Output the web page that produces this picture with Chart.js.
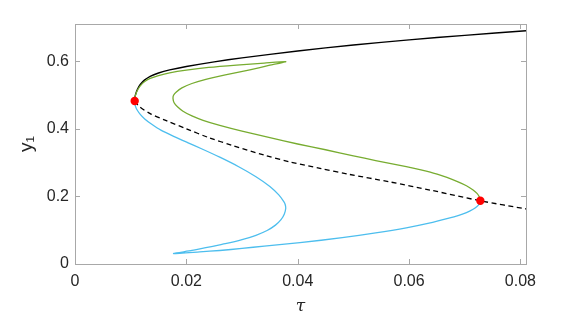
<!DOCTYPE html>
<html>
<head>
<meta charset="utf-8">
<script src="https://cdn.jsdelivr.net/npm/chart.js@4.4.1/dist/chart.umd.min.js"></script>
<style>
html,body{margin:0;padding:0;background:#fff;}
#wrap{width:581px;height:317px;position:relative;}
</style>
</head>
<body>
<div id="wrap"><canvas id="c"></canvas></div>
<script>
// ---- data ----
const xTicks = [0, 0.02, 0.04, 0.06, 0.08];
const yTicks = [0, 0.2, 0.4, 0.6];

// stable upper branch (solid black)
const blackUpTau = [0.01072, 0.01077, 0.01092, 0.01122, 0.01172, 0.01252, 0.0135, 0.0150, 0.0170, 0.0200, 0.0250, 0.0300, 0.0400, 0.0500, 0.0600, 0.0700, 0.0810];
const blackUpY   = [0.482,   0.493,   0.504,   0.517,   0.531,   0.5446,  0.5554, 0.5651, 0.5741, 0.5843, 0.598,  0.6098, 0.6303, 0.6480, 0.6630, 0.6765, 0.690];

// unstable branch (dashed black)
const dashTau = [0.01072, 0.0116, 0.0135, 0.0164, 0.0200, 0.0240, 0.0284, 0.0340, 0.0386, 0.0440, 0.0493, 0.0565, 0.0640, 0.0728, 0.0810];
const dashY   = [0.482,   0.465,  0.445,  0.424,  0.400,  0.374,  0.350,  0.322,  0.302,  0.283,  0.265,  0.243,  0.218,  0.187,  0.163];

// green branch
const greenTau = [0.01072, 0.01077, 0.01092, 0.01122, 0.01172, 0.01252, 0.0135, 0.0150, 0.0170, 0.0200, 0.0240, 0.0290, 0.0340, 0.03785,
                  0.0350, 0.0314, 0.0270, 0.0235, 0.0210, 0.0192, 0.0182, 0.0177, 0.0176, 0.0178, 0.0184, 0.0194, 0.0210, 0.0230, 0.0260, 0.0300, 0.0350, 0.0400, 0.0450, 0.0500, 0.0540, 0.0595, 0.0638, 0.0668, 0.0688, 0.0703, 0.0715, 0.0722, 0.0726, 0.07275, 0.0728];
const greenY   = [0.482,   0.492,   0.502,   0.514,   0.527,   0.540,   0.549,  0.5575, 0.5655, 0.5735, 0.5815, 0.5885, 0.5943, 0.5985,
                  0.588,  0.5745, 0.5595, 0.5465, 0.534,  0.521,  0.509,  0.499,  0.490,  0.477,  0.465,  0.452,  0.438,  0.425,  0.410,  0.393,  0.374,  0.355,  0.338,  0.320,  0.306,  0.288,  0.272,  0.256,  0.243,  0.2315, 0.219,  0.209,  0.1995, 0.193,   0.187];

// blue branch
const blueTau = [0.01072, 0.01077, 0.01092, 0.01122, 0.01172, 0.01252, 0.01372, 0.01542, 0.01772, 0.02022, 0.02272, 0.0260, 0.0294, 0.0325, 0.0350, 0.0366, 0.0375, 0.03775, 0.03785,
                 0.0376, 0.0370, 0.0360, 0.0345, 0.0325, 0.0300, 0.0270, 0.0240, 0.0210, 0.0177,
                 0.0224, 0.0260, 0.0300, 0.0340, 0.0404, 0.0480, 0.0540, 0.0595, 0.0638, 0.0668, 0.0688, 0.0703, 0.0715, 0.0722, 0.0726, 0.07275, 0.0728];
const blueY   = [0.482,   0.473,   0.464,   0.454,   0.4425,  0.429,   0.414,   0.396,   0.3776,  0.3591,  0.3409,  0.316,  0.2878, 0.2583, 0.2295, 0.2045, 0.1847, 0.176,   0.165,
                 0.148,  0.131,  0.115,  0.099,  0.085,  0.072,  0.060,  0.050,  0.040,  0.031,
                 0.036,  0.040,  0.046,  0.053,  0.063,  0.078,  0.092,  0.107,  0.1215, 0.134,  0.143,  0.152,  0.162,  0.170,  0.177,  0.182,   0.187];

// fold / bifurcation points
const redTau = [0.01072, 0.0728];
const redY   = [0.482,   0.187];

const pts = (xs, ys) => xs.map((x, i) => ({x: x, y: ys[i]}));

const boxPlugin = {
  id: 'box',
  beforeDatasetsDraw(chart) {
    const {ctx, chartArea: a, scales} = chart;
    const xs = scales.x, ys = scales.y;
    ctx.save();
    ctx.strokeStyle = '#a8a8a8';
    ctx.lineWidth = 1;
    ctx.strokeRect(Math.round(a.left) + 0.5, Math.round(a.top) + 0.5, Math.round(a.right - a.left), Math.round(a.bottom - a.top));
    const L = 5;
    ctx.beginPath();
    xTicks.forEach(v => {
      const p = Math.round(xs.getPixelForValue(v)) + 0.5;
      ctx.moveTo(p, a.bottom); ctx.lineTo(p, a.bottom - L);
      ctx.moveTo(p, a.top); ctx.lineTo(p, a.top + L);
    });
    yTicks.forEach(v => {
      const p = Math.round(ys.getPixelForValue(v)) + 0.5;
      ctx.moveTo(a.left, p); ctx.lineTo(a.left + L, p);
      ctx.moveTo(a.right, p); ctx.lineTo(a.right - L, p);
    });
    ctx.stroke();
    ctx.restore();
  }
};

const tickFont = {family: "'Liberation Sans', Arial, sans-serif", size: 16};

new Chart(document.getElementById('c'), {
  type: 'scatter',
  data: {
    datasets: [
      {data: pts(redTau, redY), showLine: false, pointRadius: 4.2, pointBackgroundColor: '#ff0000', pointBorderWidth: 0, borderColor: '#ff0000'},
      {data: pts(blueTau, blueY), showLine: true, borderColor: '#4DBEEE', borderWidth: 1.3, pointRadius: 0, tension: 0.2, fill: false},
      {data: pts(greenTau, greenY), showLine: true, borderColor: '#77AC30', borderWidth: 1.3, pointRadius: 0, tension: 0.2, fill: false},
      {data: pts(dashTau, dashY), showLine: true, borderColor: '#000000', borderWidth: 1.3, borderDash: [5, 3.5], pointRadius: 0, tension: 0.3, fill: false},
      {data: pts(blackUpTau, blackUpY), showLine: true, borderColor: '#000000', borderWidth: 1.4, pointRadius: 0, tension: 0.2, fill: false}
    ]
  },
  options: {
    responsive: true,
    maintainAspectRatio: false,
    animation: false,
    events: [],
    layout: {padding: {top: 24, right: 55, left: 0, bottom: 0}},
    plugins: {legend: {display: false}, tooltip: {enabled: false}},
    scales: {
      x: {
        type: 'linear', min: 0, max: 0.081,
        afterFit(s) { s.height = 53; },
        afterBuildTicks(s) { s.ticks = xTicks.map(v => ({value: v})); },
        grid: {display: false, drawTicks: false},
        border: {display: false},
        ticks: {font: tickFont, color: '#262626', padding: 8, maxRotation: 0,
                callback: v => v === 0 ? '0' : v.toFixed(2)},
        title: {display: true, text: 'τ', font: {family: "'DejaVu Serif', serif", size: 17, style: 'italic'}, color: '#262626', padding: {top: 0, bottom: 0}}
      },
      y: {
        type: 'linear', min: 0, max: 0.71,
        afterFit(s) { s.width = 75; },
        afterBuildTicks(s) { s.ticks = yTicks.map(v => ({value: v})); },
        grid: {display: false, drawTicks: false},
        border: {display: false},
        ticks: {font: tickFont, color: '#262626', padding: 6,
                callback: v => v === 0 ? '0' : v.toFixed(1)},
        title: {display: true, text: 'y₁', font: {family: "'Liberation Sans', Arial, sans-serif", size: 19}, color: '#262626', padding: {top: 15, bottom: 0}}
      }
    }
  },
  plugins: [boxPlugin]
});
</script>
</body>
</html>
